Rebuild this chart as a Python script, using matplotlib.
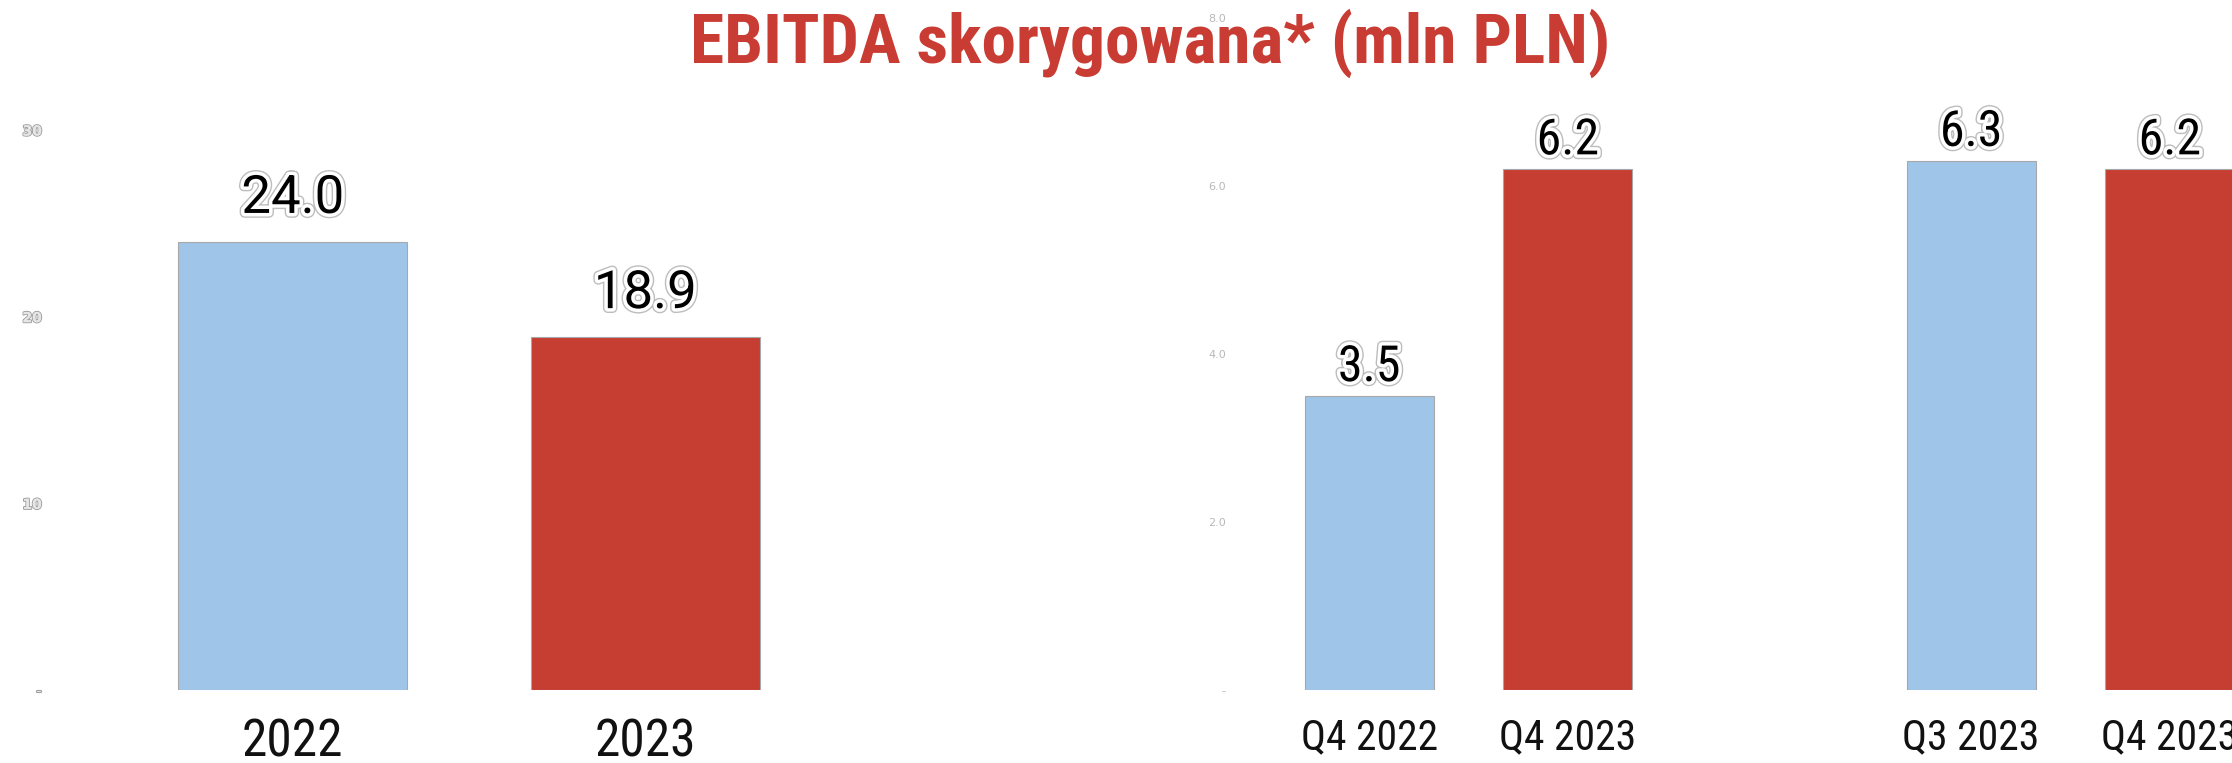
import matplotlib
matplotlib.use('Agg')
import matplotlib.pyplot as plt
import matplotlib.patheffects as pe

# dane
years = ['2022', '2023']
ebitda_year = [24.0, 18.9]
q4_labels = ['Q4 2022', 'Q4 2023']
ebitda_q4 = [3.5, 6.2]
q_labels = ['Q3 2023', 'Q4 2023']
ebitda_q = [6.3, 6.2]
colors = ['#9FC5E8', '#C63D32']

W, H = 2232, 763
fig = plt.figure(figsize=(W / 100, H / 100), dpi=100)

cond = ['Roboto Condensed', 'Archivo Narrow', 'DejaVu Sans']
halo = [pe.Stroke(linewidth=7, foreground='#bdbdbd'),
        pe.Stroke(linewidth=5, foreground='white'),
        pe.Normal()]

def panel(rect, labels, values, ymax, yticks, yticklabels, val_font, val_size, val_pad, cat_size):
    ax = fig.add_axes(rect)
    ax.bar(range(len(values)), values, width=0.65, color=colors,
           edgecolor='#a8a8a8', linewidth=0.8)
    ax.set_xlim(-0.7, len(values) - 0.3)
    ax.set_ylim(0, ymax)
    for s in ax.spines.values():
        s.set_visible(False)
    ax.set_xticks(range(len(values)))
    ax.set_xticklabels(labels, fontsize=cat_size, family=cond, color='#111111')
    ax.tick_params(axis='x', length=0, pad=20)
    ax.set_yticks(yticks)
    ax.set_yticklabels(yticklabels)
    ax.tick_params(axis='y', length=0, pad=3)
    for i, v in enumerate(values):
        ax.annotate(f'{v:.1f}', (i, v), xytext=(0, val_pad), textcoords='offset points',
                    ha='center', va='bottom', fontsize=val_size, family=val_font,
                    color='black', path_effects=halo)
    return ax

ax1 = panel([46 / W, 73 / H, 846 / W, 560 / H], years, ebitda_year, 30,
            [0, 10, 20, 30], ['-', '10', '20', '30'], 'Roboto', 38, 13, 37)
for t in ax1.get_yticklabels():
    t.set_color('#e6e6e6')
    t.set_fontweight('bold')
    t.set_fontsize(10)
    t.set_path_effects([pe.withStroke(linewidth=1.5, foreground='#a0a0a0'), pe.Normal()])

ax2 = panel([1230 / W, 73 / H, 477 / W, 672 / H], q4_labels, ebitda_q4, 8,
            [0, 2, 4, 6, 8], ['-', '2.0', '4.0', '6.0', '8.0'], cond, 36, 3.5, 30)
for t in ax2.get_yticklabels():
    t.set_color('#b8b8b8')
    t.set_fontsize(8)

ax3 = panel([1832 / W, 73 / H, 477 / W, 672 / H], q_labels, ebitda_q, 8,
            [], [], cond, 36, 3.5, 30)

fig.text(1150 / W, 1 - 43 / H, 'EBITDA skorygowana* (mln PLN)', ha='center', va='center',
         fontsize=50, fontweight='bold', family=['Roboto Condensed', 'Roboto'], color='#C83C33')

fig.savefig('out.png', dpi=100)
